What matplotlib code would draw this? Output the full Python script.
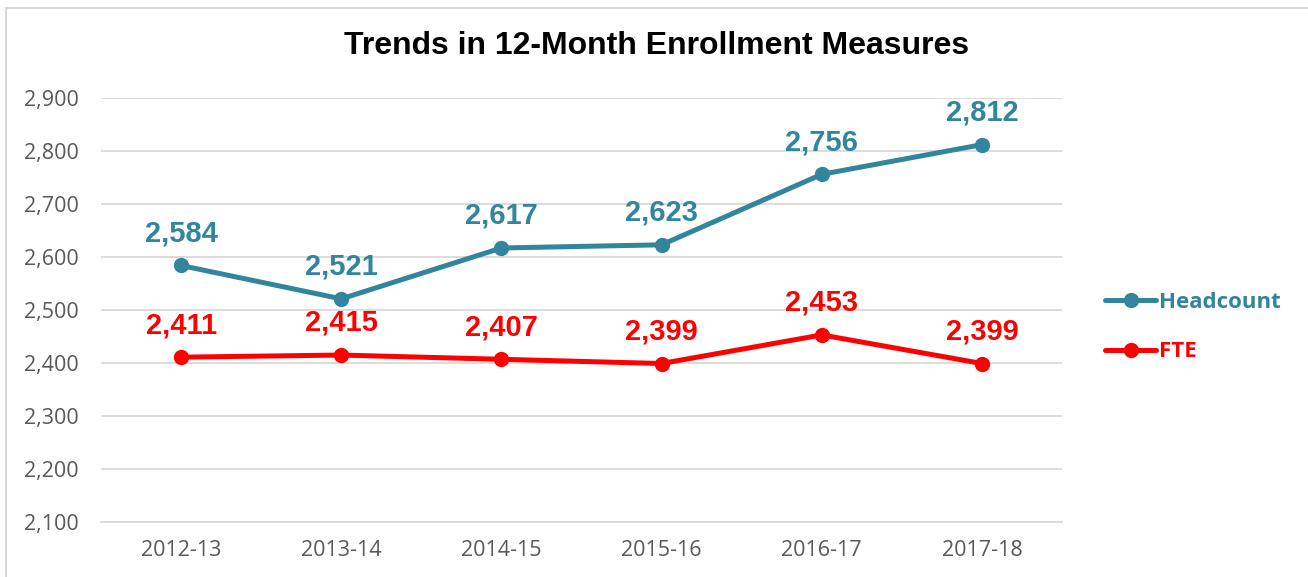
import matplotlib.pyplot as plt
import matplotlib.patches as patches

years = ["2012-13", "2013-14", "2014-15", "2015-16", "2016-17", "2017-18"]
headcount = [2584, 2521, 2617, 2623, 2756, 2812]
fte = [2411, 2415, 2407, 2399, 2453, 2399]
yticks = [2100, 2200, 2300, 2400, 2500, 2600, 2700, 2800, 2900]

teal = "#31859C"
red = "#FF0000"

W, H = 1308, 577
fig = plt.figure(figsize=(W / 100, H / 100), dpi=100)
ax = fig.add_axes([101 / W, 1 - 522 / H, (1062 - 101) / W, (522 - 98) / H])

# chart border (cut off at right/bottom like the screenshot)
fig.patches.append(patches.Rectangle((6 / W, -0.1), 1.2, 1 - 8 / H + 0.1,
                                     transform=fig.transFigure, fill=False,
                                     edgecolor="#D9D9D9", linewidth=1.5))

x = range(len(years))
ax.plot(x, headcount, color=teal, lw=3.6, marker="o", ms=10, label="Headcount",
        solid_capstyle="round")
ax.plot(x, fte, color=red, lw=3.6, marker="o", ms=10, label="FTE",
        solid_capstyle="round")

for xi, v in zip(x, headcount):
    ax.annotate(f"{v:,}", (xi, v), xytext=(0, 13), textcoords="offset points",
                ha="center", va="bottom", color=teal, fontsize=21,
                fontweight="bold", family="Liberation Sans")
for xi, v in zip(x, fte):
    ax.annotate(f"{v:,}", (xi, v), xytext=(0, 13), textcoords="offset points",
                ha="center", va="bottom", color=red, fontsize=21,
                fontweight="bold", family="Liberation Sans")

ax.set_xlim(-0.5, len(years) - 0.5)
ax.set_ylim(2100, 2900)
ax.set_yticks(yticks)
ax.set_yticklabels([f"{t:,}" for t in yticks])
ax.set_xticks(list(x))
ax.set_xticklabels(years)
ax.grid(axis="y", color="#D9D9D9", lw=1.3)
ax.set_axisbelow(True)
for s in ["top", "right", "left"]:
    ax.spines[s].set_visible(False)
ax.spines["bottom"].set_color("#D9D9D9")
ax.spines["bottom"].set_linewidth(1.3)
ax.tick_params(length=0, labelsize=15.5, labelcolor="#595959", pad=13)
for lab in ax.get_xticklabels() + ax.get_yticklabels():
    lab.set_family("Open Sans")
ax.tick_params(axis="y", pad=16)

fig.text(657 / W, 1 - 46 / H, "Trends in 12-Month Enrollment Measures",
         ha="center", va="center", fontsize=23, fontweight="bold",
         family="Liberation Sans")

leg = ax.legend(loc="center left", bbox_to_anchor=(1085 / W, 1 - 327 / H),
                bbox_transform=fig.transFigure, frameon=False,
                labelcolor="linecolor", handlelength=2.3, handletextpad=0.15,
                labelspacing=1.3, prop={"family": "Open Sans", "weight": "bold", "size": 16})

fig.savefig("out.png", dpi=100)
